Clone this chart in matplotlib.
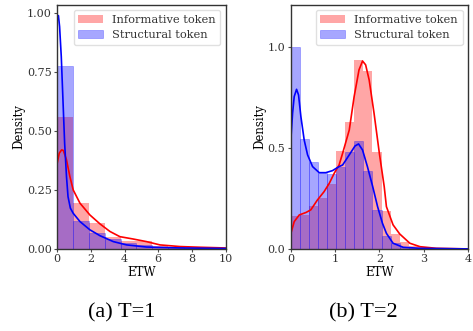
import matplotlib
matplotlib.use("Agg")
import matplotlib.pyplot as plt
import numpy as np

plt.rcParams['font.family'] = ['DejaVu Serif']

# histogram bins (left: T=1, right: T=2)
bw_left = 0.94
red_left = [0.56, 0.196, 0.112, 0.052, 0.034, 0.034, 0.012, 0.008, 0.006, 0.005, 0.004]
blue_left = [0.776, 0.12, 0.069, 0.041, 0.024, 0.017, 0.01, 0.006, 0.004, 0.003, 0.002]

bw_right = 0.205
red_right = [0.165, 0.17, 0.21, 0.254, 0.321, 0.484, 0.629, 0.934, 0.88, 0.478,
             0.188, 0.074, 0.035, 0.015, 0.007, 0.004]
blue_right = [1.0, 0.545, 0.43, 0.375, 0.37, 0.407, 0.481, 0.535, 0.384, 0.193,
              0.066, 0.03, 0.01, 0.005, 0.003, 0.002]

# density curves
red_kde_left_x = [0, 0.12, 0.26, 0.36, 0.55, 0.75, 0.95, 1.35, 1.94, 2.54, 3.13, 3.72,
                  4.51, 5.3, 6.1, 7.29, 8.5, 10]
red_kde_left_y = [0.364, 0.406, 0.42, 0.418, 0.378, 0.307, 0.25, 0.194, 0.144, 0.106, 0.074,
                  0.052, 0.042, 0.031, 0.017, 0.01, 0.007, 0.004]
blue_kde_left_x = [0, 0.07, 0.14, 0.24, 0.34, 0.44, 0.55, 0.64, 0.78, 0.95, 1.35, 1.94,
                   2.54, 3.33, 4.12, 5.3, 7.3, 10]
blue_kde_left_y = [0.979, 0.99, 0.943, 0.816, 0.632, 0.448, 0.307, 0.222, 0.173, 0.151,
                   0.116, 0.081, 0.056, 0.031, 0.017, 0.008, 0.004, 0.002]

red_kde_right_x = [0, 0.075, 0.19, 0.34, 0.45, 0.6, 0.75, 0.87, 0.98, 1.09, 1.17, 1.32,
                   1.43, 1.54, 1.62, 1.69, 1.77, 1.88, 2.0, 2.11, 2.16, 2.31, 2.46, 2.69,
                   2.92, 3.29, 4.0]
red_kde_right_y = [0.077, 0.135, 0.168, 0.18, 0.193, 0.242, 0.283, 0.325, 0.374, 0.415,
                   0.473, 0.588, 0.753, 0.885, 0.929, 0.91, 0.835, 0.671, 0.473, 0.308,
                   0.209, 0.119, 0.074, 0.028, 0.011, 0.003, 0.0]
blue_kde_right_x = [0, 0.038, 0.075, 0.128, 0.173, 0.226, 0.3, 0.377, 0.49, 0.64, 0.79,
                    0.94, 1.09, 1.17, 1.32, 1.45, 1.53, 1.62, 1.73, 1.85, 1.96, 2.07,
                    2.16, 2.31, 2.54, 2.92, 4.0]
blue_kde_right_y = [0.542, 0.671, 0.753, 0.789, 0.761, 0.654, 0.539, 0.465, 0.407, 0.377,
                    0.377, 0.387, 0.407, 0.415, 0.465, 0.509, 0.519, 0.489, 0.407, 0.308,
                    0.209, 0.127, 0.077, 0.028, 0.008, 0.003, 0.0]

fig = plt.figure(figsize=(4.73, 3.31), dpi=100)
ax1 = fig.add_axes([0.121, 0.248, 0.356, 0.737])
ax2 = fig.add_axes([0.615, 0.248, 0.374, 0.737])


def draw(ax, bw, red, blue, rx, ry, bx, by, xlim, ylim, xticks, yticks, ylabels):
    edges = np.arange(len(red)) * bw
    ax.bar(edges, red, width=bw, align='edge', color='red', alpha=0.35,
           linewidth=0, label='Informative token')
    ax.bar(edges, blue, width=bw, align='edge', color='blue', alpha=0.35,
           edgecolor='blue', linewidth=0.5, label='Structural token')
    ax.plot(rx, ry, color='red', lw=1.2)
    ax.plot(bx, by, color='blue', lw=1.2)
    ax.set_xlim(*xlim)
    ax.set_ylim(*ylim)
    ax.set_xticks(xticks)
    ax.set_yticks(yticks)
    ax.set_yticklabels(ylabels)
    ax.set_xlabel('ETW', fontsize=8.5, labelpad=1)
    ax.set_ylabel('Density', fontsize=8.5, labelpad=1)
    ax.tick_params(labelsize=8, length=2, pad=2, color='0.3', labelcolor='0.2')
    for s in ax.spines.values():
        s.set_color('0.2')
        s.set_linewidth(1.0)
    ax.legend(loc='upper right', fontsize=8.2, frameon=True, fancybox=True,
              edgecolor='0.85', borderaxespad=0.45, handlelength=2.2,
              handletextpad=0.8, labelcolor='0.2')


draw(ax1, bw_left, red_left, blue_left, red_kde_left_x, red_kde_left_y,
     blue_kde_left_x, blue_kde_left_y, (0, 10), (0, 1.035),
     [0, 2, 4, 6, 8, 10], [0, 0.25, 0.5, 0.75, 1.0],
     ['0.00', '0.25', '0.50', '0.75', '1.00'])
draw(ax2, bw_right, red_right, blue_right, red_kde_right_x, red_kde_right_y,
     blue_kde_right_x, blue_kde_right_y, (0, 4), (0, 1.206),
     [0, 1, 2, 3, 4], [0, 0.5, 1.0], ['0.0', '0.5', '1.0'])

fig.text(0.258, 0.054, '(a) T=1', fontsize=16, family='Liberation Serif',
         ha='center', va='center')
fig.text(0.768, 0.054, '(b) T=2', fontsize=16, family='Liberation Serif',
         ha='center', va='center')

fig.savefig('out.png', dpi=100)
